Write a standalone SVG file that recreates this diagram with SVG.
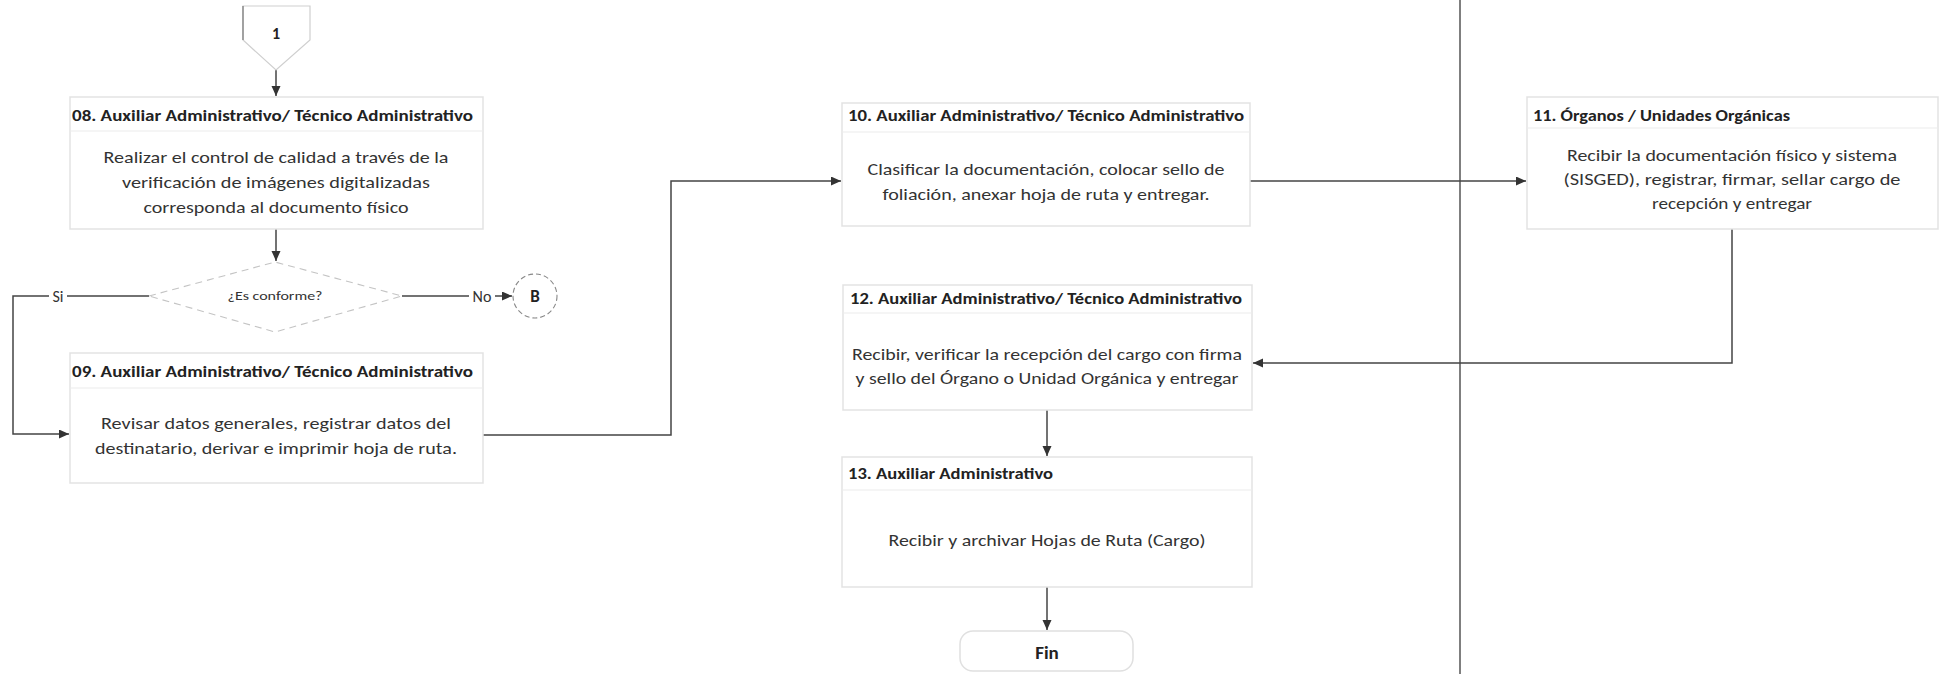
<svg xmlns="http://www.w3.org/2000/svg" width="1942" height="674" viewBox="0 0 1942 674">
<style>
.box{fill:#fff;stroke:#e3e3e3;stroke-width:1.5}
.div{stroke:#ececec;stroke-width:1.2}
.ttl{font-family:Carlito,Lato,"Liberation Sans",sans-serif;font-weight:bold;font-size:15.5px;fill:#222}
.bdy{font-family:Carlito,Lato,"Liberation Sans",sans-serif;font-size:17px;fill:#333;text-anchor:middle}
.lbl{font-family:Carlito,Lato,"Liberation Sans",sans-serif;font-size:16px;fill:#333;text-anchor:middle}
.con{fill:none;stroke:#444;stroke-width:1.5}
.lane{stroke:#555;stroke-width:1.5}
</style>
<defs>
<marker id="arr" markerUnits="userSpaceOnUse" markerWidth="11" markerHeight="10" refX="10" refY="4.5" orient="auto">
<path d="M0,0 L10,4.5 L0,9 z" fill="#333"/>
</marker>
</defs>
<rect width="1942" height="674" fill="#fff"/>
<line class="lane" x1="1460" y1="0" x2="1460" y2="674"/>

<g id="connectors">
<path class="con" d="M276,70 V96" marker-end="url(#arr)"/>
<path class="con" d="M276,229 V261" marker-end="url(#arr)"/>
<path class="con" d="M149,296 H13 V434 H69" marker-end="url(#arr)"/>
<path class="con" d="M402,296 H512" marker-end="url(#arr)"/>
<path class="con" d="M483,435 H671 V181 H841" marker-end="url(#arr)"/>
<path class="con" d="M1250,181 H1526" marker-end="url(#arr)"/>
<path class="con" d="M1732,229 V363 H1253" marker-end="url(#arr)"/>
<path class="con" d="M1047,410 V456" marker-end="url(#arr)"/>
<path class="con" d="M1047,587 V630" marker-end="url(#arr)"/>
<rect x="49" y="286" width="18" height="19" fill="#fff"/>
<text class="lbl" x="58" y="302">Si</text>
<rect x="469" y="286" width="26" height="19" fill="#fff"/>
<text class="lbl" x="482" y="302">No</text>
</g>

<g id="start1">
<path d="M243,6 H310 V40 L276,70 L243,40 Z" fill="#fff" stroke="#cfcfcf" stroke-width="1.2"/>
<line x1="243" y1="6" x2="243" y2="40" stroke="#777" stroke-width="1.2"/>
<text class="ttl" x="276" y="39" text-anchor="middle" style="font-size:16px">1</text>
</g>

<g id="n08">
<rect class="box" x="70" y="97" width="413" height="132"/>
<line class="div" x1="70" y1="131" x2="483" y2="131"/>
<text class="ttl" x="72" y="121" textLength="401" lengthAdjust="spacingAndGlyphs">08. Auxiliar Administrativo/ Técnico Administrativo</text>
<text class="bdy" x="276" y="163" textLength="345" lengthAdjust="spacingAndGlyphs">Realizar el control de calidad a través de la</text>
<text class="bdy" x="276" y="188" textLength="308" lengthAdjust="spacingAndGlyphs">verificación de imágenes digitalizadas</text>
<text class="bdy" x="276" y="213" textLength="265" lengthAdjust="spacingAndGlyphs">corresponda al documento físico</text>
</g>

<g id="decision">
<path d="M149,296 L275,262 L402,296 L275,332 Z" fill="#fff" stroke="#c4c4c4" stroke-width="1.1" stroke-dasharray="7 5"/>
<text class="lbl" x="275" y="300" style="font-size:13px" textLength="95" lengthAdjust="spacingAndGlyphs">¿Es conforme?</text>
</g>

<g id="connB">
<circle cx="535" cy="296" r="22" fill="#fff" stroke="#888" stroke-width="1.1" stroke-dasharray="5 3"/>
<text class="ttl" x="535" y="302" text-anchor="middle" style="font-size:17px">B</text>
</g>

<g id="n09">
<rect class="box" x="70" y="353" width="413" height="130"/>
<line class="div" x1="70" y1="388" x2="483" y2="388"/>
<text class="ttl" x="72" y="377" textLength="401" lengthAdjust="spacingAndGlyphs">09. Auxiliar Administrativo/ Técnico Administrativo</text>
<text class="bdy" x="276" y="429" textLength="350" lengthAdjust="spacingAndGlyphs">Revisar datos generales, registrar datos del</text>
<text class="bdy" x="276" y="454" textLength="362" lengthAdjust="spacingAndGlyphs">destinatario, derivar e imprimir hoja de ruta.</text>
</g>

<g id="n10">
<rect class="box" x="842" y="103" width="408" height="123"/>
<line class="div" x1="842" y1="132" x2="1250" y2="132"/>
<text class="ttl" x="848" y="121" textLength="396" lengthAdjust="spacingAndGlyphs">10. Auxiliar Administrativo/ Técnico Administrativo</text>
<text class="bdy" x="1046" y="175" textLength="357" lengthAdjust="spacingAndGlyphs">Clasificar la documentación, colocar sello de</text>
<text class="bdy" x="1046" y="200" textLength="327" lengthAdjust="spacingAndGlyphs">foliación, anexar hoja de ruta y entregar.</text>
</g>

<g id="n11">
<rect class="box" x="1527" y="97" width="411" height="132"/>
<line class="div" x1="1527" y1="128" x2="1938" y2="128"/>
<text class="ttl" x="1533" y="121" textLength="257" lengthAdjust="spacingAndGlyphs">11. Órganos / Unidades Orgánicas</text>
<text class="bdy" x="1732" y="161" textLength="330" lengthAdjust="spacingAndGlyphs">Recibir la documentación físico y sistema</text>
<text class="bdy" x="1732" y="185" textLength="337" lengthAdjust="spacingAndGlyphs">(SISGED), registrar, firmar, sellar cargo de</text>
<text class="bdy" x="1732" y="209" textLength="160" lengthAdjust="spacingAndGlyphs">recepción y entregar</text>
</g>

<g id="n12">
<rect class="box" x="843" y="285" width="409" height="125"/>
<line class="div" x1="843" y1="313" x2="1252" y2="313"/>
<text class="ttl" x="850" y="304" textLength="392" lengthAdjust="spacingAndGlyphs">12. Auxiliar Administrativo/ Técnico Administrativo</text>
<text class="bdy" x="1047" y="360" textLength="390" lengthAdjust="spacingAndGlyphs">Recibir, verificar la recepción del cargo con firma</text>
<text class="bdy" x="1047" y="384" textLength="383" lengthAdjust="spacingAndGlyphs">y sello del Órgano o Unidad Orgánica y entregar</text>
</g>

<g id="n13">
<rect class="box" x="842" y="457" width="410" height="130"/>
<line class="div" x1="842" y1="490" x2="1252" y2="490"/>
<text class="ttl" x="848" y="479" textLength="205" lengthAdjust="spacingAndGlyphs">13. Auxiliar Administrativo</text>
<text class="bdy" x="1047" y="546" textLength="317" lengthAdjust="spacingAndGlyphs">Recibir y archivar Hojas de Ruta (Cargo)</text>
</g>

<g id="fin">
<rect x="960" y="631" width="173" height="40" rx="13" fill="#fff" stroke="#e0e0e0" stroke-width="1.5"/>
<text class="ttl" x="1047" y="659" text-anchor="middle" style="font-size:19px">Fin</text>
</g>
</svg>
